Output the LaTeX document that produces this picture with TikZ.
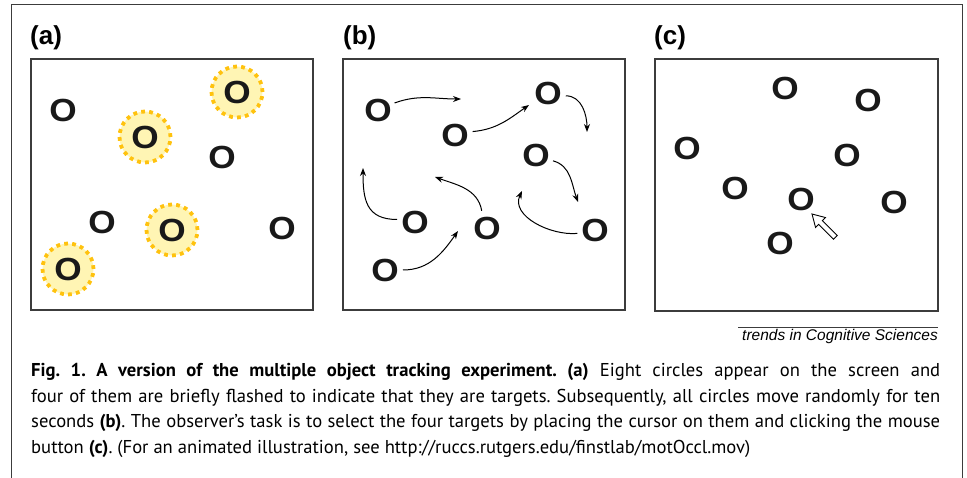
\documentclass[tikz,border=0pt]{standalone}
\usepackage{fontspec}
\setmainfont{Liberation Sans}
\newfontfamily\capfont{PT Sans}
\usetikzlibrary{arrows.meta}

\definecolor{glowfill}{HTML}{FFF5B4}
\definecolor{glowdot}{HTML}{FFC20E}
\definecolor{framegray}{HTML}{3C3C3C}

\newcommand{\bigO}{\scalebox{1.1}[1]{O}}

\tikzset{
  obj/.style={circle, inner sep=0pt, font=\fontsize{32}{32}\selectfont\bfseries, text=black!90},
  target/.style={obj, minimum size=51pt, fill=glowfill, draw=glowdot, line width=3.8pt, dash pattern=on 3.8pt off 4.2pt},
  screen/.style={draw=framegray, line width=1.1pt},
  move/.style={line width=1pt, -{Stealth[length=8pt,width=6pt]}},
  panel/.style={anchor=base west, inner sep=0pt, font=\fontsize{26}{26}\selectfont\bfseries},
}

\begin{document}
\begin{tikzpicture}[x=1pt,y=1pt]
\useasboundingbox (0,0) rectangle (967,-478);

% outer frame, open at the bottom
\draw[framegray, line width=1pt] (11,-478) -- (11,-5) -- (962,-5) -- (962,-478);

% (a) targets flashed
\node[panel] (la) at (30,-44.5) {(a)};
\draw[screen] (31,-59) rectangle (313,-310);
\node[obj] (a1) at (63,-110) {\bigO};
\node[target] (a2) at (145,-137) {\bigO};
\node[target] (a3) at (237,-92) {\bigO};
\node[obj] (a4) at (222,-157) {\bigO};
\node[obj] (a5) at (102,-222) {\bigO};
\node[target] (a6) at (172,-230) {\bigO};
\node[obj] (a7) at (282,-228) {\bigO};
\node[target] (a8) at (68,-269) {\bigO};

% (b) random motion
\node[panel] (lb) at (343,-44.5) {(b)};
\draw[screen] (343,-59) rectangle (625,-310);
\node[obj] (b1) at (378,-110) {\bigO};
\node[obj] (b2) at (455,-135) {\bigO};
\node[obj] (b3) at (548,-93) {\bigO};
\node[obj] (b4) at (536,-155) {\bigO};
\node[obj] (b5) at (415,-222) {\bigO};
\node[obj] (b6) at (487,-228) {\bigO};
\node[obj] (b7) at (595,-230) {\bigO};
\node[obj] (b8) at (385,-270) {\bigO};

\coordinate (e1) at (461,-99);
\coordinate (e2) at (529,-105);
\coordinate (e3) at (587,-132);
\coordinate (e4) at (578,-202);
\coordinate (e5) at (522,-191);
\coordinate (e6) at (435,-177);
\coordinate (e7) at (363,-168);
\coordinate (e8) at (458,-231);

\draw[move] (b1.23) to[out=20,in=180] (e1);
\draw[move] (b2.11) to[out=5,in=215] (e2);
\draw[move] (b3.-9) to[out=0,in=90] (e3);
\draw[move] (b4.-19) to[out=-15,in=110] (e4);
\draw[move] (b7.191) to[out=185,in=-115] (e5);
\draw[move] (b6.107) to[out=100,in=-20] (e6);
\draw[move] (b5.172) to[out=180,in=-90,looseness=1.3] (e7);
\draw[move] (b8.0) to[out=0,in=235] (e8);

% (c) selection with the cursor
\node[panel] (lc) at (654,-44.5) {(c)};
\draw[screen] (655,-59) rectangle (938,-311);
\node[obj] (c1) at (785,-88) {\bigO};
\node[obj] (c2) at (868,-100) {\bigO};
\node[obj] (c3) at (687,-148) {\bigO};
\node[obj] (c4) at (847,-155) {\bigO};
\node[obj] (c5) at (735,-188) {\bigO};
\node[obj] (c6) at (801,-199) {\bigO};
\node[obj] (c7) at (894,-202) {\bigO};
\node[obj] (c8) at (780,-243) {\bigO};

\begin{scope}[shift={(812,-214)}, rotate=135]
\draw[line width=0.9pt, fill=white] (0,0) -- (-12,7) -- (-12,2.6) -- (-33,2.6) -- (-33,-2.6) -- (-12,-2.6) -- (-12,-7) -- cycle;
\end{scope}

% journal credit
\draw[framegray, line width=0.8pt] (738,-327) -- (938,-327);
\node[anchor=base east, inner sep=0pt, font=\fontsize{15.5}{15.5}\selectfont\itshape] (credit) at (938,-341) {trends in Cognitive Sciences};

% caption
\node[anchor=north west, inner sep=0pt, text width=909pt, align=justify,
      font=\capfont\fontsize{18.6}{25.6}\selectfont] (caption) at (31,-363)
  {\noindent\frenchspacing\hyphenpenalty=10000\exhyphenpenalty=10000
   \textbf{Fig. 1. A version of the multiple object tracking experiment. (a)} Eight circles appear on the screen and\linebreak
   four of them are briefly flashed to indicate that they are targets. Subsequently, all circles move randomly for ten\linebreak
   seconds \textbf{(b)}. The observer’s task is to select the four targets by placing the cursor on them and clicking the mouse\linebreak
   button \textbf{(c)}. (For an animated illustration, see http://ruccs.rutgers.edu/finstlab/motOccl.mov)};

\end{tikzpicture}
\end{document}
